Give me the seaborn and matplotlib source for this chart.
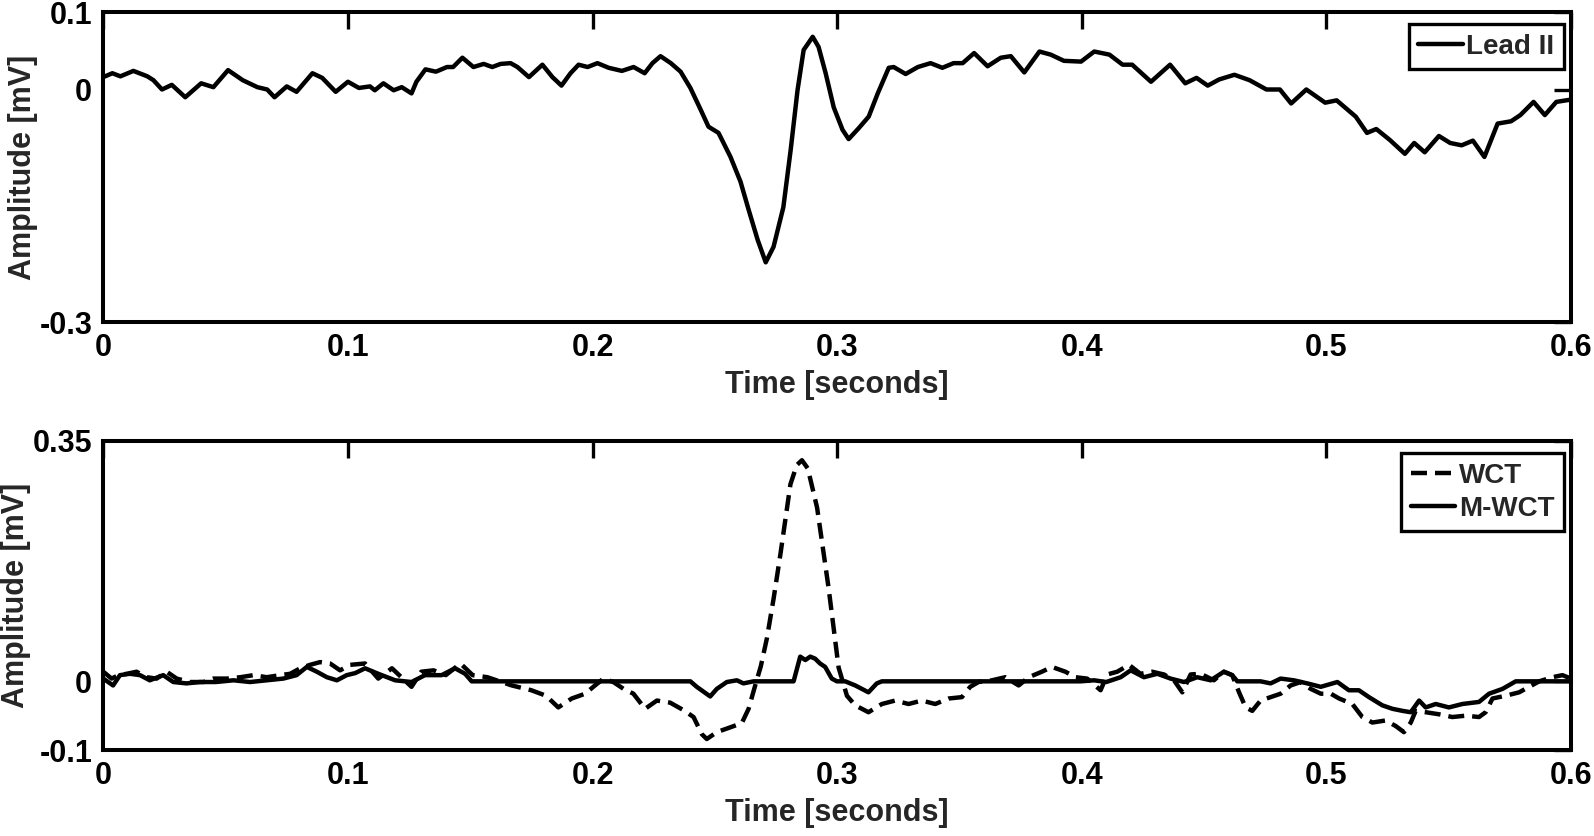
import numpy as np
import pandas as pd
import matplotlib
matplotlib.use("Agg")
import matplotlib.pyplot as plt
import seaborn as sns

# ---------------- data ----------------
lead_t = [0.0, 0.0037, 0.007, 0.0123, 0.018, 0.0205, 0.024, 0.028, 0.0335, 0.040,
          0.045, 0.051, 0.057, 0.063, 0.067, 0.070, 0.075, 0.079, 0.0855, 0.0895,
          0.095, 0.100, 0.1045, 0.109, 0.111, 0.1145, 0.1187, 0.122, 0.126, 0.128,
          0.1317, 0.136, 0.1405, 0.143, 0.1468, 0.1513, 0.1555, 0.159, 0.1624, 0.1665,
          0.1693, 0.174, 0.1795, 0.1836, 0.1873, 0.191, 0.1943, 0.198, 0.202, 0.2066,
          0.212, 0.2168, 0.2213, 0.2245, 0.2278, 0.232, 0.236, 0.240, 0.2442, 0.2474,
          0.2515, 0.2564, 0.2605, 0.2638, 0.2675, 0.2708, 0.274, 0.278, 0.281, 0.2838,
          0.2863, 0.290, 0.2924, 0.2953, 0.2986, 0.3022, 0.3047, 0.3088, 0.3129, 0.3166,
          0.3211, 0.3231, 0.328, 0.333, 0.3382, 0.343, 0.3476, 0.3513, 0.356, 0.3615,
          0.3669, 0.371, 0.3765, 0.3827, 0.3873, 0.3927, 0.3997, 0.4051, 0.4113, 0.4167,
          0.4206, 0.4283, 0.4361, 0.4423, 0.4469, 0.4515, 0.4562, 0.4624, 0.4686, 0.4755,
          0.481, 0.4856, 0.4918, 0.4995, 0.5042, 0.512, 0.5166, 0.5204, 0.5259, 0.5321,
          0.5359, 0.5402, 0.546, 0.5506, 0.5553, 0.5599, 0.5646, 0.57, 0.5755, 0.5793,
          0.5847, 0.5893, 0.594, 0.6]
lead_v = [0.016, 0.021, 0.017, 0.024, 0.017, 0.012, 0.000, 0.006, -0.010, 0.008,
          0.003, 0.025, 0.012, 0.003, 0.000, -0.010, 0.004, -0.003, 0.021, 0.015,
          -0.003, 0.010, 0.002, 0.004, -0.001, 0.008, -0.001, 0.003, -0.005, 0.010,
          0.026, 0.023, 0.029, 0.029, 0.041, 0.029, 0.033, 0.029, 0.033, 0.034,
          0.029, 0.016, 0.032, 0.016, 0.005, 0.021, 0.032, 0.029, 0.034, 0.028,
          0.024, 0.029, 0.021, 0.034, 0.043, 0.034, 0.023, 0.002, -0.026, -0.048,
          -0.056, -0.087, -0.119, -0.155, -0.194, -0.223, -0.203, -0.152, -0.078, -0.001,
          0.051, 0.068, 0.055, 0.021, -0.023, -0.052, -0.064, -0.050, -0.035, -0.005,
          0.028, 0.029, 0.020, 0.029, 0.034, 0.028, 0.034, 0.034, 0.047, 0.030,
          0.041, 0.043, 0.022, 0.049, 0.045, 0.037, 0.036, 0.049, 0.045, 0.032,
          0.032, 0.010, 0.032, 0.008, 0.015, 0.005, 0.013, 0.019, 0.012, 0.000,
          0.000, -0.018, 0.000, -0.017, -0.014, -0.035, -0.056, -0.051, -0.065, -0.083,
          -0.069, -0.081, -0.060, -0.069, -0.072, -0.066, -0.087, -0.044, -0.041, -0.033,
          -0.016, -0.033, -0.016, -0.013]

wct_t = [0.0, 0.0034, 0.0062, 0.0096, 0.0136, 0.0177, 0.0218, 0.0259, 0.030, 0.0355,
         0.041, 0.045, 0.0505, 0.056, 0.0614, 0.0668, 0.0723, 0.0764, 0.0805, 0.0845,
         0.0886, 0.0927, 0.0968, 0.1009, 0.107, 0.1124, 0.118, 0.126, 0.130, 0.135,
         0.140, 0.146, 0.151, 0.157, 0.167, 0.175, 0.181, 0.186, 0.1915, 0.197,
         0.201, 0.2045, 0.2085, 0.2127, 0.2167, 0.2215, 0.2263, 0.2317, 0.2372, 0.2413,
         0.2447, 0.2467, 0.2508, 0.2563, 0.2610, 0.2638, 0.2665, 0.2688, 0.2713, 0.2740,
         0.2768, 0.2809, 0.2835, 0.2856, 0.2880, 0.2918, 0.2965, 0.3006, 0.304, 0.3074,
         0.3128, 0.3183, 0.3237, 0.3292, 0.3346, 0.3401, 0.3456, 0.351, 0.3544, 0.3578,
         0.3633, 0.3687, 0.3742, 0.3783, 0.3837, 0.3878, 0.3933, 0.3974, 0.4022, 0.4077,
         0.4104, 0.4145, 0.4193, 0.4240, 0.4288, 0.4336, 0.4377, 0.4411, 0.4445, 0.4486,
         0.4540, 0.4581, 0.4615, 0.4643, 0.4670, 0.4697, 0.4731, 0.4772, 0.4813, 0.4854,
         0.4895, 0.4936, 0.4977, 0.5018, 0.5052, 0.5106, 0.5147, 0.5188, 0.5242, 0.5283,
         0.5317, 0.5345, 0.5365, 0.5406, 0.5461, 0.5515, 0.557, 0.5624, 0.5651, 0.5679,
         0.5733, 0.5788, 0.5829, 0.5870, 0.5924, 0.5965, 0.6]
wct_v = [0.014, 0.004, 0.009, 0.011, 0.014, 0.006, 0.004, 0.014, 0.004, -0.001,
         -0.001, 0.004, 0.004, 0.006, 0.009, 0.006, 0.009, 0.011, 0.019, 0.024,
         0.028, 0.026, 0.016, 0.024, 0.026, 0.004, 0.019, -0.008, 0.014, 0.016,
         0.009, 0.026, 0.009, 0.006, -0.006, -0.013, -0.021, -0.038, -0.025, -0.018,
         -0.006, 0.004, -0.001, -0.011, -0.018, -0.040, -0.028, -0.031, -0.042, -0.052,
         -0.077, -0.084, -0.074, -0.067, -0.061, -0.040, -0.006, 0.022, 0.063, 0.120,
         0.185, 0.287, 0.315, 0.322, 0.310, 0.253, 0.136, 0.020, -0.021, -0.035,
         -0.045, -0.033, -0.028, -0.033, -0.028, -0.033, -0.025, -0.023, -0.008, -0.001,
         0.0015, 0.006, -0.006, 0.006, 0.014, 0.021, 0.014, 0.006, 0.004, -0.013,
         0.010, 0.014, 0.024, 0.011, 0.014, 0.010, 0.0015, -0.016, 0.010, 0.011,
         0.0015, 0.014, 0.009, -0.016, -0.038, -0.043, -0.028, -0.023, -0.018, -0.006,
         -0.001, -0.011, -0.018, -0.018, -0.025, -0.033, -0.052, -0.060, -0.057, -0.065,
         -0.074, -0.060, -0.043, -0.045, -0.048, -0.052, -0.050, -0.052, -0.045, -0.025,
         -0.021, -0.016, -0.008, 0.000, 0.006, 0.009, 0.004]

mwct_t = [0.0, 0.004, 0.0068, 0.0109, 0.015, 0.019, 0.0245, 0.0286, 0.034, 0.0395,
          0.046, 0.0532, 0.060, 0.0668, 0.0736, 0.079, 0.0832, 0.0873, 0.0914, 0.0955,
          0.0995, 0.103, 0.107, 0.1124, 0.1193, 0.126, 0.1315, 0.1383, 0.1438, 0.1479,
          0.1506, 0.2400, 0.2426, 0.2481, 0.2508, 0.2549, 0.259, 0.2617, 0.2658, 0.2822,
          0.2849, 0.287, 0.289, 0.291, 0.293, 0.2951, 0.2978, 0.2999, 0.3033, 0.3074,
          0.3128, 0.3162, 0.3183, 0.3995, 0.405, 0.410, 0.4159, 0.420, 0.4254, 0.4309,
          0.4363, 0.4418, 0.4472, 0.4527, 0.4581, 0.4615, 0.4636, 0.4731, 0.4772, 0.4813,
          0.4867, 0.4922, 0.4977, 0.5045, 0.5092, 0.5133, 0.5174, 0.5229, 0.527, 0.5311,
          0.5345, 0.5379, 0.5406, 0.5447, 0.5501, 0.5556, 0.5624, 0.5665, 0.572, 0.5774,
          0.6]
mwct_v = [0.004, -0.006, 0.009, 0.011, 0.009, 0.0015, 0.009, -0.001, -0.003, -0.001,
          -0.001, 0.0015, -0.001, 0.0015, 0.004, 0.009, 0.021, 0.014, 0.006, 0.0015,
          0.009, 0.012, 0.019, 0.011, 0.0015, -0.001, 0.009, 0.009, 0.019, 0.011,
          0.0, 0.0, -0.008, -0.022, -0.011, -0.001, 0.0015, -0.003, 0.0, 0.0,
          0.036, 0.031, 0.036, 0.033, 0.026, 0.021, 0.004, 0.0, 0.0, -0.006,
          -0.016, -0.003, 0.0, 0.0, 0.0015, -0.001, 0.006, 0.016, 0.006, 0.011,
          0.004, -0.001, 0.006, 0.0015, 0.014, 0.009, 0.0, 0.0, -0.003, 0.004,
          0.0015, -0.003, -0.008, -0.001, -0.013, -0.013, -0.023, -0.035, -0.040, -0.043,
          -0.045, -0.028, -0.038, -0.033, -0.038, -0.033, -0.030, -0.018, -0.011, 0.0,
          0.0]

x_ticks = [0, 0.1, 0.2, 0.3, 0.4, 0.5, 0.6]
x_ticklabels = ["0", "0.1", "0.2", "0.3", "0.4", "0.5", "0.6"]
top_yticks = [-0.3, 0, 0.1]
top_yticklabels = ["-0.3", "0", "0.1"]
bot_yticks = [-0.1, 0, 0.35]
bot_yticklabels = ["-0.1", "0", "0.35"]

assert len(lead_t) == len(lead_v)
assert len(wct_t) == len(wct_v)
assert len(mwct_t) == len(mwct_v)

# ---------------- style ----------------
sns.set_style("white")
plt.rcParams["font.family"] = ["Liberation Sans", "DejaVu Sans"]
plt.rcParams["font.weight"] = "bold"
plt.rcParams["axes.labelweight"] = "bold"

W, H = 1594, 836
fig = plt.figure(figsize=(W / 100, H / 100), dpi=100)
fig.patch.set_facecolor("white")

def px_axes(x0, x1, y0, y1):
    return fig.add_axes([x0 / W, 1 - y1 / H, (x1 - x0) / W, (y1 - y0) / H])

ax1 = px_axes(103.3, 1571, 12, 322)
ax2 = px_axes(103.3, 1571, 441, 750)

LW = 3.2
df_lead = pd.DataFrame({"t": lead_t, "v": lead_v})
df_wct = pd.DataFrame({"t": wct_t, "v": wct_v})
df_mwct = pd.DataFrame({"t": mwct_t, "v": mwct_v})

sns.lineplot(data=df_lead, x="t", y="v", ax=ax1, color="black", linewidth=LW,
             label="Lead II", estimator=None, sort=False)
sns.lineplot(data=df_wct, x="t", y="v", ax=ax2, color="black", linewidth=LW,
             linestyle=(0, (3.6, 1.8)), label="WCT", estimator=None, sort=False)
sns.lineplot(data=df_mwct, x="t", y="v", ax=ax2, color="black", linewidth=LW,
             label="M-WCT", estimator=None, sort=False)

for ax in (ax1, ax2):
    for ln in ax.get_lines():
        ln.set_solid_joinstyle("round")
        ln.set_dash_joinstyle("round")

for ax, yt, ytl, ylim in [(ax1, top_yticks, top_yticklabels, (-0.3, 0.1)),
                          (ax2, bot_yticks, bot_yticklabels, (-0.1, 0.35))]:
    ax.set_xlim(0, 0.6)
    ax.set_ylim(*ylim)
    ax.set_xticks(x_ticks)
    ax.set_xticklabels(x_ticklabels)
    ax.set_yticks(yt)
    ax.set_yticklabels(ytl)
    ax.tick_params(direction="in", length=12, width=2.4, top=True, right=True,
                   labelsize=22, pad=8, colors="black")
    for s in ax.spines.values():
        s.set_linewidth(2.9)
        s.set_color("black")
        s.set_visible(True)
    ax.set_xlabel("Time [seconds]", fontsize=22, fontweight="bold", labelpad=5)
    ax.set_ylabel("Amplitude [mV]", fontsize=22, fontweight="bold", labelpad=1)
    ax.grid(False)
    for lbl in ax.get_xticklabels() + ax.get_yticklabels():
        lbl.set_fontweight("bold")

for ax, dy, dh in [(ax1, 12, 310), (ax2, 12, 309)]:
    leg = ax.legend(loc="upper right", bbox_to_anchor=(1 - 7 / 1468, 1 - dy / dh),
                    borderaxespad=0, fontsize=20, frameon=True, fancybox=False,
                    handlelength=1.6, handletextpad=0.12, borderpad=0.35,
                    labelspacing=0.25, framealpha=1)
    leg.get_frame().set_edgecolor("black")
    leg.get_frame().set_linewidth(2.4)
    for txt in leg.get_texts():
        txt.set_fontweight("bold")
    for line in leg.get_lines():
        line.set_linewidth(LW)

fig.savefig("out.png", dpi=100, facecolor="white")
